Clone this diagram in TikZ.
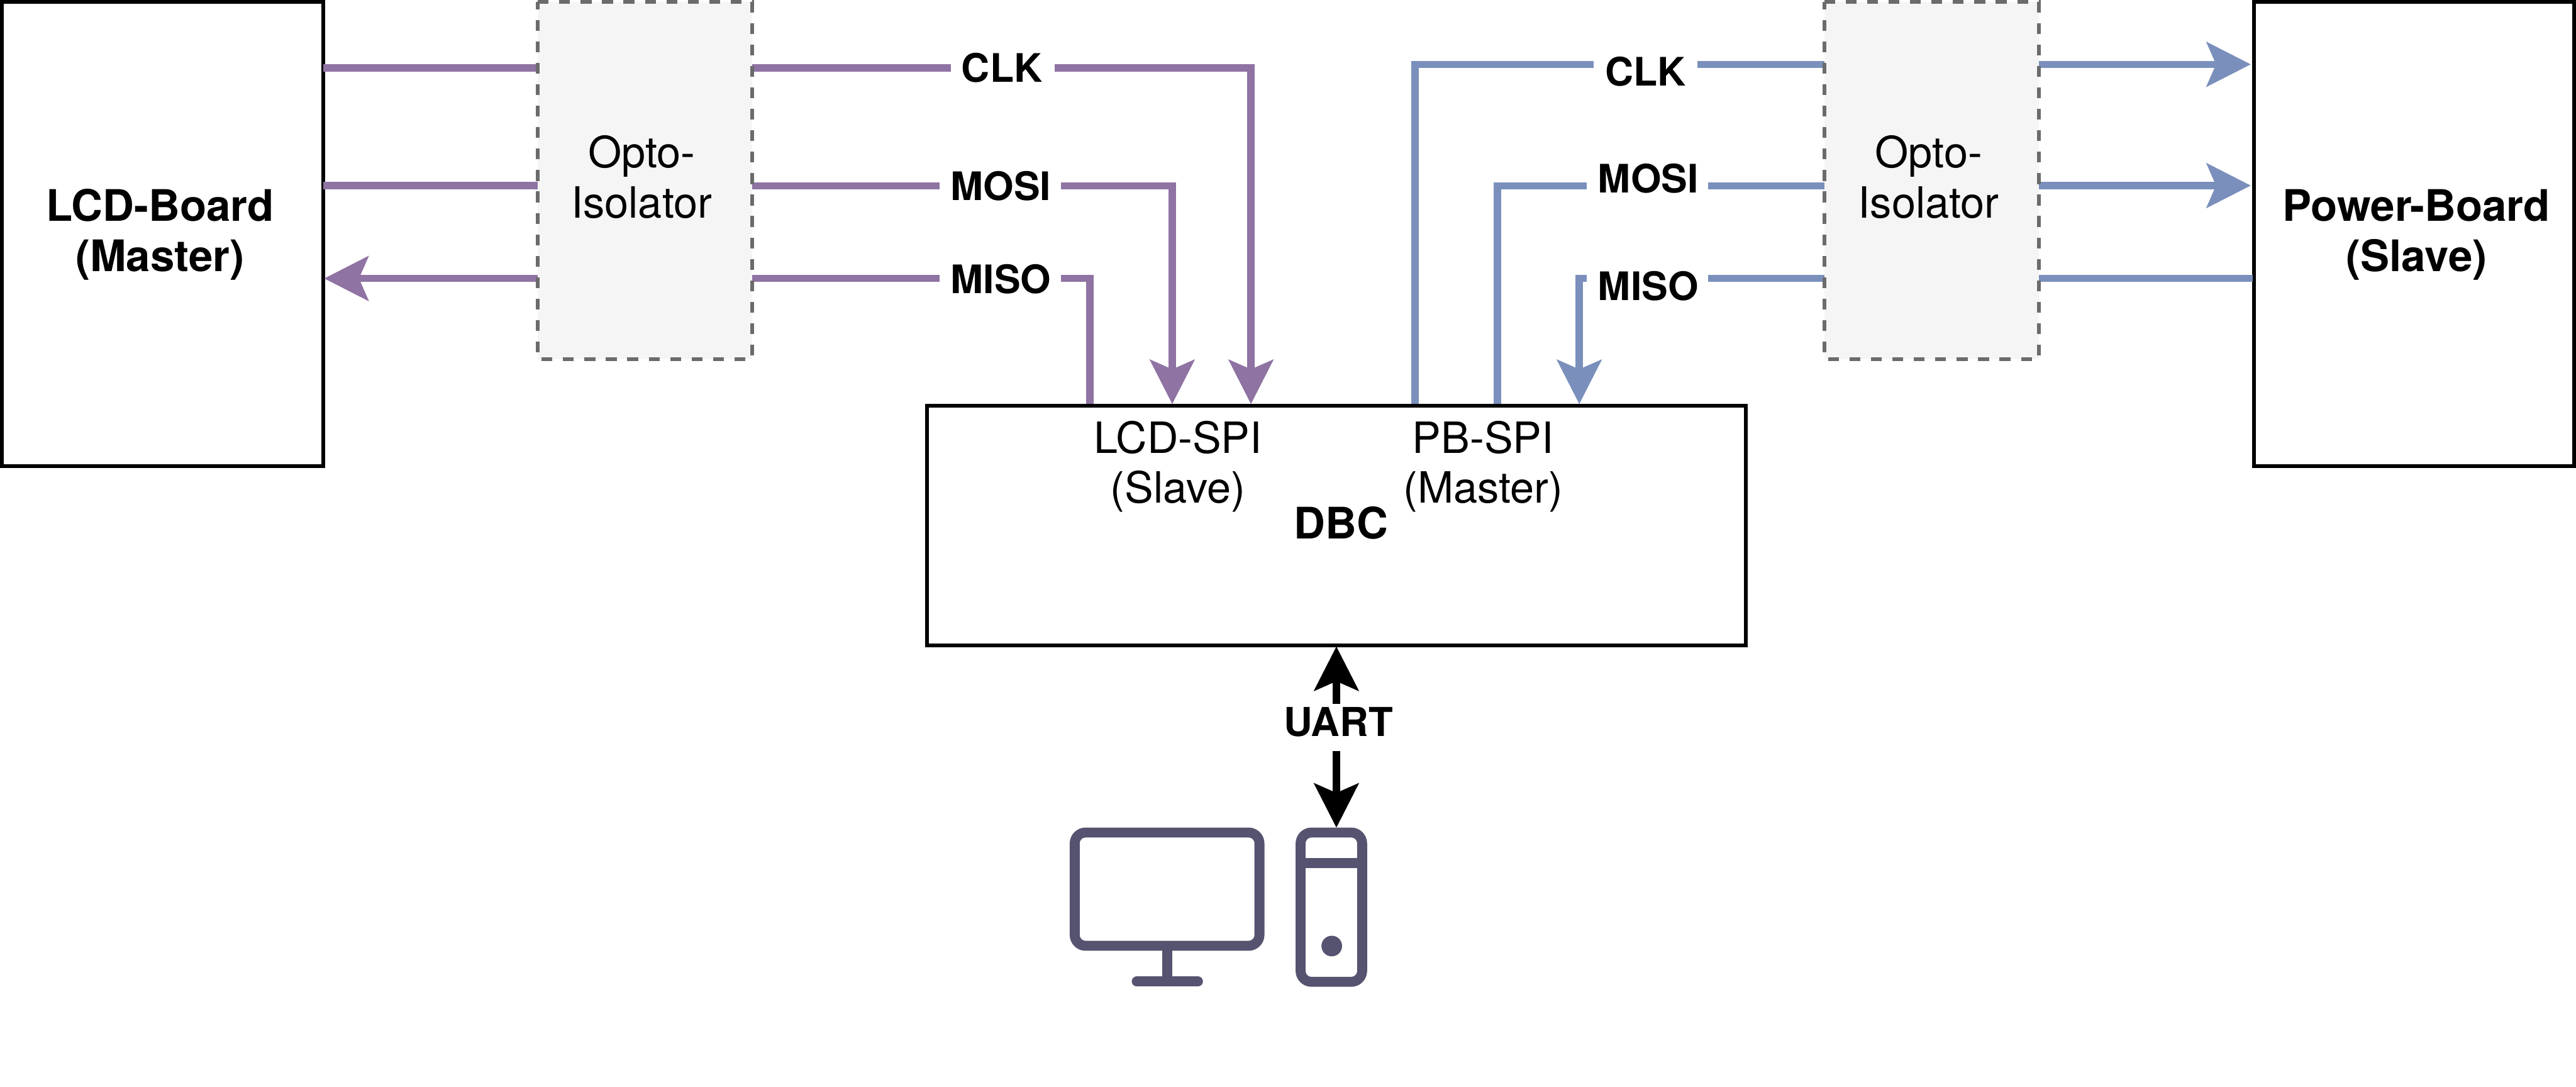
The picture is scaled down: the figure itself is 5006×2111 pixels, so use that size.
\documentclass[tikz,border=0pt]{standalone}
\usepackage{fontspec}
\setmainfont{TeX Gyre Heros}
\usetikzlibrary{arrows.meta}
\definecolor{purp}{HTML}{8F73A3}
\definecolor{blu}{HTML}{7A8FBB}
\definecolor{icon}{HTML}{55536F}
\definecolor{optof}{HTML}{F5F5F5}
\definecolor{optos}{HTML}{6B6B6B}
\tikzset{
  every node/.style={inner sep=0pt,outer sep=0pt,font=\fontsize{23.8pt}{27.6pt}\selectfont,align=center},
  bx/.style={draw=black,line width=2pt,fill=white},
  wire/.style={line width=4pt,line join=miter},
  hd/.style={-{Stealth[length=24.4pt,width=24.5pt,inset=5.2pt]}},
  lab/.style={font=\fontsize{21.7pt}{25pt}\selectfont\bfseries,anchor=base},
  nm/.style={anchor=base},
  nmb/.style={anchor=base,font=\fontsize{24pt}{27.6pt}\selectfont\bfseries},
  opto/.style={fill=optof,draw=optos,line width=2pt,dash pattern=on 6pt off 5.85pt},
  ic/.style={draw=icon,line width=5.5pt}
}
\begin{document}
\begin{tikzpicture}[x=0.01cm,y=-0.01cm]
\useasboundingbox (0,0) rectangle (5006,2111);
\coordinate (lcdTL) at (3.5,3.5); \coordinate (lcdBR) at (628,906);
\coordinate (pwrTL) at (4380,3.5); \coordinate (pwrBR) at (5002,906);
\coordinate (dbcTL) at (1801,788); \coordinate (dbcBR) at (3392.5,1253.5);
\coordinate (o1TL) at (1045,3.3); \coordinate (o1BR) at (1462,698);
\coordinate (o2TL) at (3545,3.3); \coordinate (o2BR) at (3962,698);
\draw[bx] (lcdTL) rectangle (lcdBR);
\draw[bx] (pwrTL) rectangle (pwrBR);
\draw[bx] (dbcTL) rectangle (dbcBR);
% purple wires
\draw[wire,purp] (628,132) -- (1045,132);
\draw[wire,purp] (628,360.5) -- (1045,360.5);
\draw[wire,purp,hd] (1045,541) -- (630,541);
\draw[wire,purp] (1462,132) -- (1848,132);
\draw[wire,purp] (1462,361) -- (1826,361);
\draw[wire,purp] (1462,541) -- (1826,541);
\draw[wire,purp,hd] (2049,132) -- (2431,132) -- (2431,785);
\draw[wire,purp,hd] (2062,361) -- (2278,361) -- (2278,785);
\draw[wire,purp] (2062,541) -- (2118,541) -- (2118,785);
% blue wires
\draw[wire,blu,hd] (3962,125) -- (4374,125);
\draw[wire,blu,hd] (3962,360.5) -- (4374,360.5);
\draw[wire,blu] (3962,541) -- (4378,541);
\draw[wire,blu] (3545,125) -- (3298,125);
\draw[wire,blu] (3545,361) -- (3319,361);
\draw[wire,blu] (3545,541) -- (3319,541);
\draw[wire,blu] (3097,125) -- (2750,125) -- (2750,785);
\draw[wire,blu] (3083,361) -- (2910,361) -- (2910,785);
\draw[wire,blu,hd] (3083,541) -- (3069,541) -- (3069,785);
% opto-isolators, over the wire ends
\draw[opto] (o1TL) -- (o1TL -| o1BR) -- (o1BR) -- (o1TL |- o1BR) -- cycle;
\draw[opto] (o2TL) -- (o2TL -| o2BR) -- (o2BR) -- (o2TL |- o2BR) -- cycle;
% text
\node[nmb] (lcd1) at (311,430) {LCD-Board};
\node[nmb] (lcd2) at (311,527) {(Master)};
\node[nmb] (pw1) at (4696,430) {Power-Board};
\node[nmb] (pw2) at (4696,527) {(Slave)};
\node[nm] (o11) at (1247,326) {Opto-};
\node[nm] (o12) at (1247,423) {Isolator};
\node[nm] (o21) at (3748,326) {Opto-};
\node[nm] (o22) at (3748,423) {Isolator};
\node[nm] (ls1) at (2289,880) {LCD-SPI};
\node[nm] (ls2) at (2289,977) {(Slave)};
\node[nm] (ps1) at (2882,880) {PB-SPI};
\node[nm] (ps2) at (2882,977) {(Master)};
\node[nmb] (dbc) at (2606,1047) {DBC};
\node[lab,font=\fontsize{22pt}{25pt}\selectfont\bfseries] (uart) at (2601,1430) {UART};
\node[lab] (pclk) at (1947,160) {CLK};
\node[lab] (pmosi) at (1945,389) {MOSI};
\node[lab] (pmiso) at (1945,570) {MISO};
\node[lab] (bclk) at (3198,167) {CLK};
\node[lab] (bmosi) at (3203,375) {MOSI};
\node[lab] (bmiso) at (3203,583) {MISO};
% UART
\draw[wire,black,hd] (2597,1367) -- (2597,1256);
\draw[wire,black,hd] (2597,1459) -- (2597,1608);
% icon
\draw[ic,rounded corners=6pt] (2088.5,1617.5) rectangle (2447.5,1837.5);
\draw[ic] (2268,1837.5) -- (2268,1900);
\draw[ic,line cap=round] (2209,1907) -- (2328,1907);
\draw[ic,rounded corners=6pt] (2527.5,1617.5) rectangle (2647,1907.5);
\draw[ic] (2527.5,1677) -- (2647,1677);
\fill[icon] (2588,1838) circle (5.7pt);
\end{tikzpicture}
\end{document}
